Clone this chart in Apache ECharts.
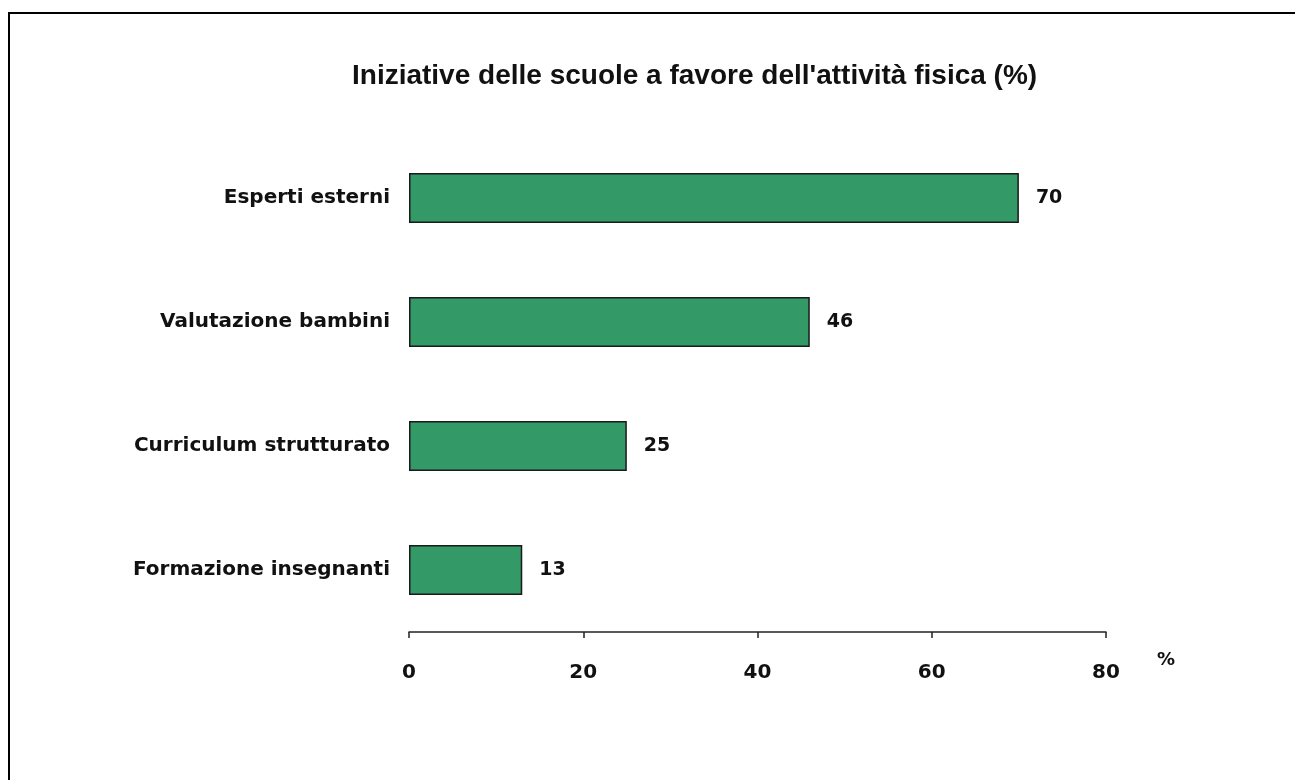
<!DOCTYPE html>
<html>
<head>
<meta charset="utf-8">
<script src="https://cdn.jsdelivr.net/npm/echarts@6/dist/echarts.min.js"></script>
<style>
  body { margin: 0; background: #fff; }
  #wrap { position: relative; width: 1295px; height: 780px; overflow: hidden; }
  #frame {
    position: absolute; left: 8px; top: 12px; width: 1400px; height: 900px;
    border-top: 2px solid #000; border-left: 2px solid #000;
  }
  #chart { position: absolute; left: 0; top: 0; width: 1295px; height: 780px; }
</style>
</head>
<body>
<div id="wrap">
  <div id="frame"></div>
  <div id="chart"></div>
</div>
<script>
// dati
const categorie = ['Esperti esterni', 'Valutazione bambini', 'Curriculum strutturato', 'Formazione insegnanti'];
const valori = [70, 46, 25, 13];
const assePercento = { min: 0, max: 80, passo: 20 };

const chart = echarts.init(document.getElementById('chart'));

const option = {
  backgroundColor: 'transparent',
  animation: false,
  title: {
    text: "Iniziative delle scuole a favore dell'attività fisica (%)",
    left: 347,
    top: 57,
    textStyle: {
      fontFamily: '"Liberation Sans Narrow", "Liberation Sans", Arial, sans-serif',
      fontWeight: 'bold',
      fontSize: 28,
      color: '#111'
    }
  },
  grid: { left: 409, right: 189, top: 136, bottom: 148, containLabel: false },
  xAxis: {
    type: 'value',
    min: assePercento.min,
    max: assePercento.max,
    interval: assePercento.passo,
    name: '%',
    nameLocation: 'end',
    nameGap: 51,
    nameTextStyle: {
      fontFamily: '"DejaVu Sans", sans-serif',
      fontWeight: 'bold',
      fontSize: 18,
      color: '#111',
      align: 'left',
      verticalAlign: 'top',
      padding: [19, 0, 0, 0]
    },
    axisLine: { show: true, lineStyle: { color: '#222', width: 1.5 } },
    axisTick: { show: true, length: 6, lineStyle: { color: '#222', width: 1.5 } },
    splitLine: { show: false },
    axisLabel: {
      margin: 31,
      fontFamily: '"DejaVu Sans", sans-serif',
      fontWeight: 'bold',
      fontSize: 20,
      color: '#111'
    }
  },
  yAxis: {
    type: 'category',
    data: categorie,
    inverse: true,
    axisLine: { show: false },
    axisTick: { show: false },
    axisLabel: {
      margin: 19,
      fontFamily: '"DejaVu Sans", sans-serif',
      fontWeight: 'bold',
      fontSize: 20,
      color: '#111'
    }
  },
  series: [{
    type: 'bar',
    data: valori,
    barWidth: 50,
    itemStyle: { color: '#339966', borderColor: '#1a1a1a', borderWidth: 1.5 },
    label: {
      show: true,
      position: 'right',
      distance: 17,
      fontFamily: '"DejaVu Sans", sans-serif',
      fontWeight: 'bold',
      fontSize: 19,
      color: '#111'
    }
  }]
};

chart.setOption(option);
</script>
</body>
</html>
